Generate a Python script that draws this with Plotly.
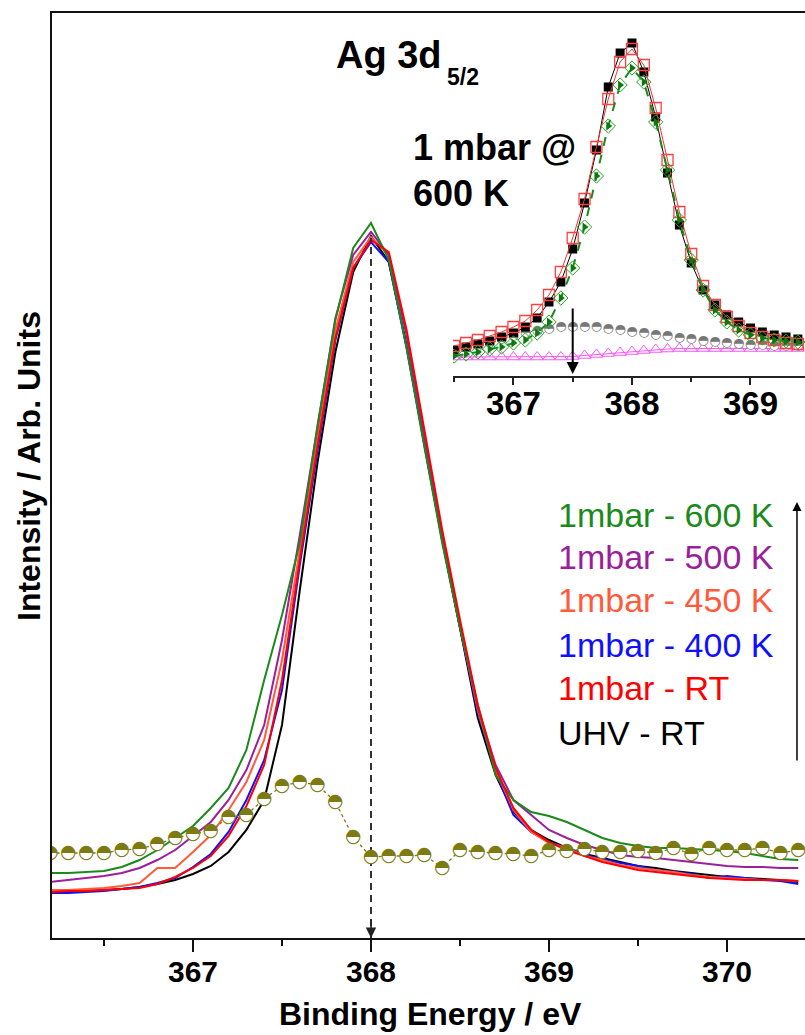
import plotly.graph_objects as go

# ---------------- main panel data (binding energy, eV) ----------------
energy = [round(366.2 + 0.1 * i, 1) for i in range(43)]

uhv_rt = [46, 46, 47, 48, 49, 51, 54, 58, 64, 72, 86, 108, 138, 213, 348, 476, 586, 666, 702, 676, 593, 493,
          398, 310, 220, 163, 126, 108, 98, 90, 84, 80, 76, 72, 70, 67, 65, 63, 61, 60, 59, 58, 56]
mbar_400 = [45, 45, 46, 47, 49, 51, 55, 60, 71, 84, 106, 138, 178, 248, 373, 488, 598, 670, 696, 676, 590, 493,
            398, 310, 226, 166, 123, 106, 96, 90, 83, 79, 75, 72, 68, 66, 64, 60, 62, 60, 58, 57, 54]
mbar_450 = [48, 48, 49, 50, 52, 55, 70, 70, 86, 103, 128, 156, 198, 278, 388, 503, 608, 676, 701, 683, 603, 501,
            403, 313, 228, 168, 128, 106, 95, 90, 82, 78, 73, 70, 68, 66, 63, 61, 60, 59, 58, 58, 57]
mbar_500 = [56, 58, 60, 62, 65, 70, 78, 88, 102, 116, 138, 168, 213, 298, 403, 513, 620, 683, 706, 683, 603, 501,
            403, 313, 230, 173, 138, 123, 108, 100, 93, 88, 83, 81, 80, 78, 76, 74, 72, 71, 71, 70, 70]
mbar_600 = [65, 65, 66, 67, 71, 78, 88, 100, 112, 130, 150, 188, 258, 323, 395, 513, 618, 690, 715, 678, 590, 491,
            395, 310, 233, 163, 138, 126, 122, 116, 108, 100, 95, 92, 90, 90, 89, 88, 87, 85, 82, 79, 78]
mbar_rt = [46, 47, 47, 48, 49, 50, 54, 61, 70, 82, 102, 132, 173, 258, 378, 493, 600, 670, 698, 686, 608, 506,
           408, 318, 233, 170, 130, 108, 96, 88, 82, 76, 72, 68, 66, 64, 62, 60, 59, 58, 58, 58, 57]
difference = [85, 85, 85, 85, 88, 89, 94, 100, 104, 107, 121, 123, 139, 152, 156, 153, 136, 101, 81, 82, 82, 83,
              70, 88, 86, 85, 84, 82, 88, 87, 89, 86, 86, 87, 85, 90, 84, 90, 88, 88, 90, 85, 88]

series_names = ["UHV - RT", "1mbar - 400 K", "1mbar - 450 K", "1mbar - 500 K", "1mbar - 600 K", "1mbar - RT"]
series_values = [uhv_rt, mbar_400, mbar_450, mbar_500, mbar_600, mbar_rt]
series_colors = ["#000000", "#1010ff", "#ff5a3c", "#9b1f9b", "#1a8a1a", "#ff0000"]

legend_order = ["1mbar - 600 K", "1mbar - 500 K", "1mbar - 450 K", "1mbar - 400 K", "1mbar - RT", "UHV - RT"]

main_ticks = [367, 368, 369, 370]

# ---------------- inset data (1 mbar @ 600 K fit) ----------------
inset_energy = [round(366.5 + 0.1 * i, 1) for i in range(30)]
inset_measured = [26, 29, 32, 35, 39, 43, 49, 58, 74, 94, 127, 173, 226, 289, 323, 333, 304, 259, 203, 151, 113,
                  86, 71, 61, 54, 48, 44, 41, 39, 37]
inset_envelope = [30, 33, 36, 40, 44, 49, 55, 66, 81, 104, 138, 177, 229, 277, 314, 327, 311, 268, 216, 164, 122,
                  90, 71, 59, 50, 43, 39, 36, 33, 32]
inset_metal = [20, 22, 24, 27, 29, 33, 36, 43, 54, 78, 108, 149, 200, 250, 291, 308, 294, 254, 206, 156, 116, 86,
               66, 54, 46, 41, 38, 36, 35, 34]
inset_oxide = [25, 28, 30, 33, 37, 40, 43, 45, 47, 49, 49, 49, 49, 47, 46, 44, 43, 41, 40, 38, 37, 35, 34, 33, 32,
               31, 31, 30, 30, 30]
inset_background = [19, 19, 19, 19, 19, 19, 19, 19, 19, 19, 19.5, 20.5, 21.5, 22.5, 23.5, 24.5, 25.5, 26.5, 27,
                    27.5, 27.5, 27.5, 27.5, 27.5, 27.5, 27.5, 27.5, 27.5, 27.5, 27.5]
inset_ticks = [367, 368, 369]

FONT = "Arial, Liberation Sans, sans-serif"
W, H = 805, 1035
L, T, B = 52, 13, 97
PW, PH = W - L, H - T - B


def px_x(p):
    return (p - L) / PW


def px_y(p):
    return (H - B - p) / PH


fig = go.Figure()

# main spectra
for name, vals, col in zip(series_names, series_values, series_colors):
    fig.add_trace(go.Scatter(x=energy, y=vals, mode="lines", name=name,
                             line=dict(color=col, width=2), showlegend=False))

# dashed guide at 368 eV
fig.add_trace(go.Scatter(x=[368, 368], y=[0, 700], mode="lines", showlegend=False,
                         line=dict(color="#333333", width=2, dash="7px,5px")))

# difference curve (half filled circles)
fig.add_trace(go.Scatter(x=energy, y=difference, mode="lines+markers+text", showlegend=False,
                         line=dict(color="#7d7a12", width=1.3, dash="dot"),
                         marker=dict(symbol="circle", size=13, color="white", line=dict(width=0)),
                         text=["\u25d3"] * len(energy), textposition="middle center",
                         textfont=dict(family="DejaVu Sans", size=19, color="#7d7a12")))

# inset traces
fig.add_trace(go.Scatter(x=inset_energy, y=inset_background, mode="lines+markers", xaxis="x2", yaxis="y2",
                         showlegend=False, line=dict(color="#ff55ff", width=1),
                         marker=dict(symbol="triangle-up-open", size=11, color="#ff55ff", line=dict(width=1))))
fig.add_trace(go.Scatter(x=inset_energy, y=inset_oxide, mode="markers+text", xaxis="x2", yaxis="y2",
                         showlegend=False,
                         marker=dict(symbol="circle", size=9, color="white", line=dict(width=0)),
                         text=["\u25d3"] * len(inset_energy), textposition="middle center",
                         textfont=dict(family="DejaVu Sans", size=13, color="#777777")))
fig.add_trace(go.Scatter(x=inset_energy, y=inset_measured, mode="lines+markers", xaxis="x2", yaxis="y2",
                         showlegend=False, line=dict(color="#000000", width=1),
                         marker=dict(symbol="square", size=9, color="#000000")))
fig.add_trace(go.Scatter(x=inset_energy, y=inset_envelope, mode="lines+markers", xaxis="x2", yaxis="y2",
                         showlegend=False, line=dict(color="#ff3030", width=1),
                         marker=dict(symbol="square-open", size=11, color="#ff4040", line=dict(width=1.3))))
fig.add_trace(go.Scatter(x=inset_energy, y=inset_metal, mode="lines+markers", xaxis="x2", yaxis="y2",
                         showlegend=False, line=dict(color="#1a8a1a", width=2, dash="dash"),
                         marker=dict(symbol="diamond-open", size=11, color="#22aa22", line=dict(width=1))))
fig.add_trace(go.Scatter(x=inset_energy, y=inset_metal, mode="markers", xaxis="x2", yaxis="y2",
                         showlegend=False,
                         marker=dict(symbol="triangle-right", size=8, color="#0a7a0a", line=dict(width=0))))

annotations = []
# legend-like coloured labels
label_y = [515, 557, 600, 645, 688, 733]
for name, yy in zip(legend_order, label_y):
    col = series_colors[series_names.index(name)]
    annotations.append(dict(text=name, x=px_x(556), y=px_y(yy), xref="paper", yref="paper",
                            xanchor="left", yanchor="middle", showarrow=False,
                            font=dict(family=FONT, size=34, color=col)))

# vertical arrow beside labels
annotations.append(dict(x=370.393, y=436, ax=370.393, ay=176, xref="x", yref="y", axref="x", ayref="y",
                        showarrow=True, arrowhead=2, arrowsize=1.2, arrowwidth=1.5, arrowcolor="#000",
                        text=""))
# arrowhead at bottom of dashed line
annotations.append(dict(x=368, y=0, ax=0, ay=-20, xref="x", yref="y", showarrow=True, arrowhead=2,
                        arrowsize=1.3, arrowwidth=1.6, arrowcolor="#222", text=""))
# inset arrow
annotations.append(dict(x=367.5, y=2, ax=367.5, ay=69, xref="x2", yref="y2", axref="x2", ayref="y2",
                        showarrow=True, arrowhead=2, arrowsize=1.2, arrowwidth=2, arrowcolor="#000", text=""))

# titles / labels
annotations.append(dict(text="Ag 3d", x=px_x(334), y=px_y(55), xref="paper", yref="paper", xanchor="left",
                        yanchor="middle", showarrow=False, font=dict(family=FONT, size=38, color="#000",
                                                                      weight="bold")))
annotations.append(dict(text="5/2", x=px_x(445), y=px_y(77), xref="paper", yref="paper", xanchor="left",
                        yanchor="middle", showarrow=False, font=dict(family=FONT, size=23, color="#000",
                                                                      weight="bold")))
annotations.append(dict(text="1 mbar @", x=px_x(411), y=px_y(148), xref="paper", yref="paper", xanchor="left",
                        yanchor="middle", showarrow=False, font=dict(family=FONT, size=36, color="#000",
                                                                      weight="bold")))
annotations.append(dict(text="600 K", x=px_x(411), y=px_y(193), xref="paper", yref="paper", xanchor="left",
                        yanchor="middle", showarrow=False, font=dict(family=FONT, size=36, color="#000",
                                                                      weight="bold")))
annotations.append(dict(text="Intensity / Arb. Units", x=px_x(29), y=px_y(466), xref="paper", yref="paper",
                        xanchor="center", yanchor="middle", textangle=-90, showarrow=False,
                        font=dict(family=FONT, size=32, color="#000", weight="bold")))
annotations.append(dict(text="Binding Energy / eV", x=px_x(430), y=px_y(1014), xref="paper", yref="paper",
                        xanchor="center", yanchor="middle", showarrow=False,
                        font=dict(family=FONT, size=32, color="#000", weight="bold")))

fig.update_layout(
    width=W, height=H,
    margin=dict(l=L, r=0, t=T, b=B),
    paper_bgcolor="white", plot_bgcolor="white",
    showlegend=False,
    xaxis=dict(range=[366.208, 370.438], domain=[0, 1], showline=True, mirror=True, linecolor="#111",
               linewidth=2, ticks="outside", ticklen=12, tickwidth=2, tickcolor="#111",
               tickvals=main_ticks, ticktext=[str(t) for t in main_ticks],
               tickfont=dict(family=FONT, size=30, color="#000", weight="bold"),
               minor=dict(ticks="outside", ticklen=6, tickwidth=2, tickcolor="#111", dtick=0.5, tick0=366.5),
               showgrid=False, zeroline=False, ticklabelstandoff=-6),
    yaxis=dict(range=[0, 925], domain=[0, 1], showline=True, mirror=False, linecolor="#111", linewidth=2,
               ticks="", showticklabels=False, showgrid=False, zeroline=False),
    xaxis2=dict(range=[366.49, 369.46], domain=[px_x(453), 1], anchor="y2", showline=True, linecolor="#222",
                linewidth=1.5, ticks="outside", ticklen=7, tickwidth=1.5, tickcolor="#222",
                tickvals=inset_ticks, ticktext=[str(t) for t in inset_ticks],
                tickfont=dict(family=FONT, size=33, color="#000", weight="bold"),
                minor=dict(ticks="outside", ticklen=4, tickwidth=1.5, tickcolor="#222", dtick=0.5,
                           tick0=366.5),
                showgrid=False, zeroline=False, ticklabelstandoff=-9),
    yaxis2=dict(range=[0, 363], domain=[px_y(376), 1], anchor="x2", visible=False),
    annotations=annotations,
)

fig.write_html("out.html")
